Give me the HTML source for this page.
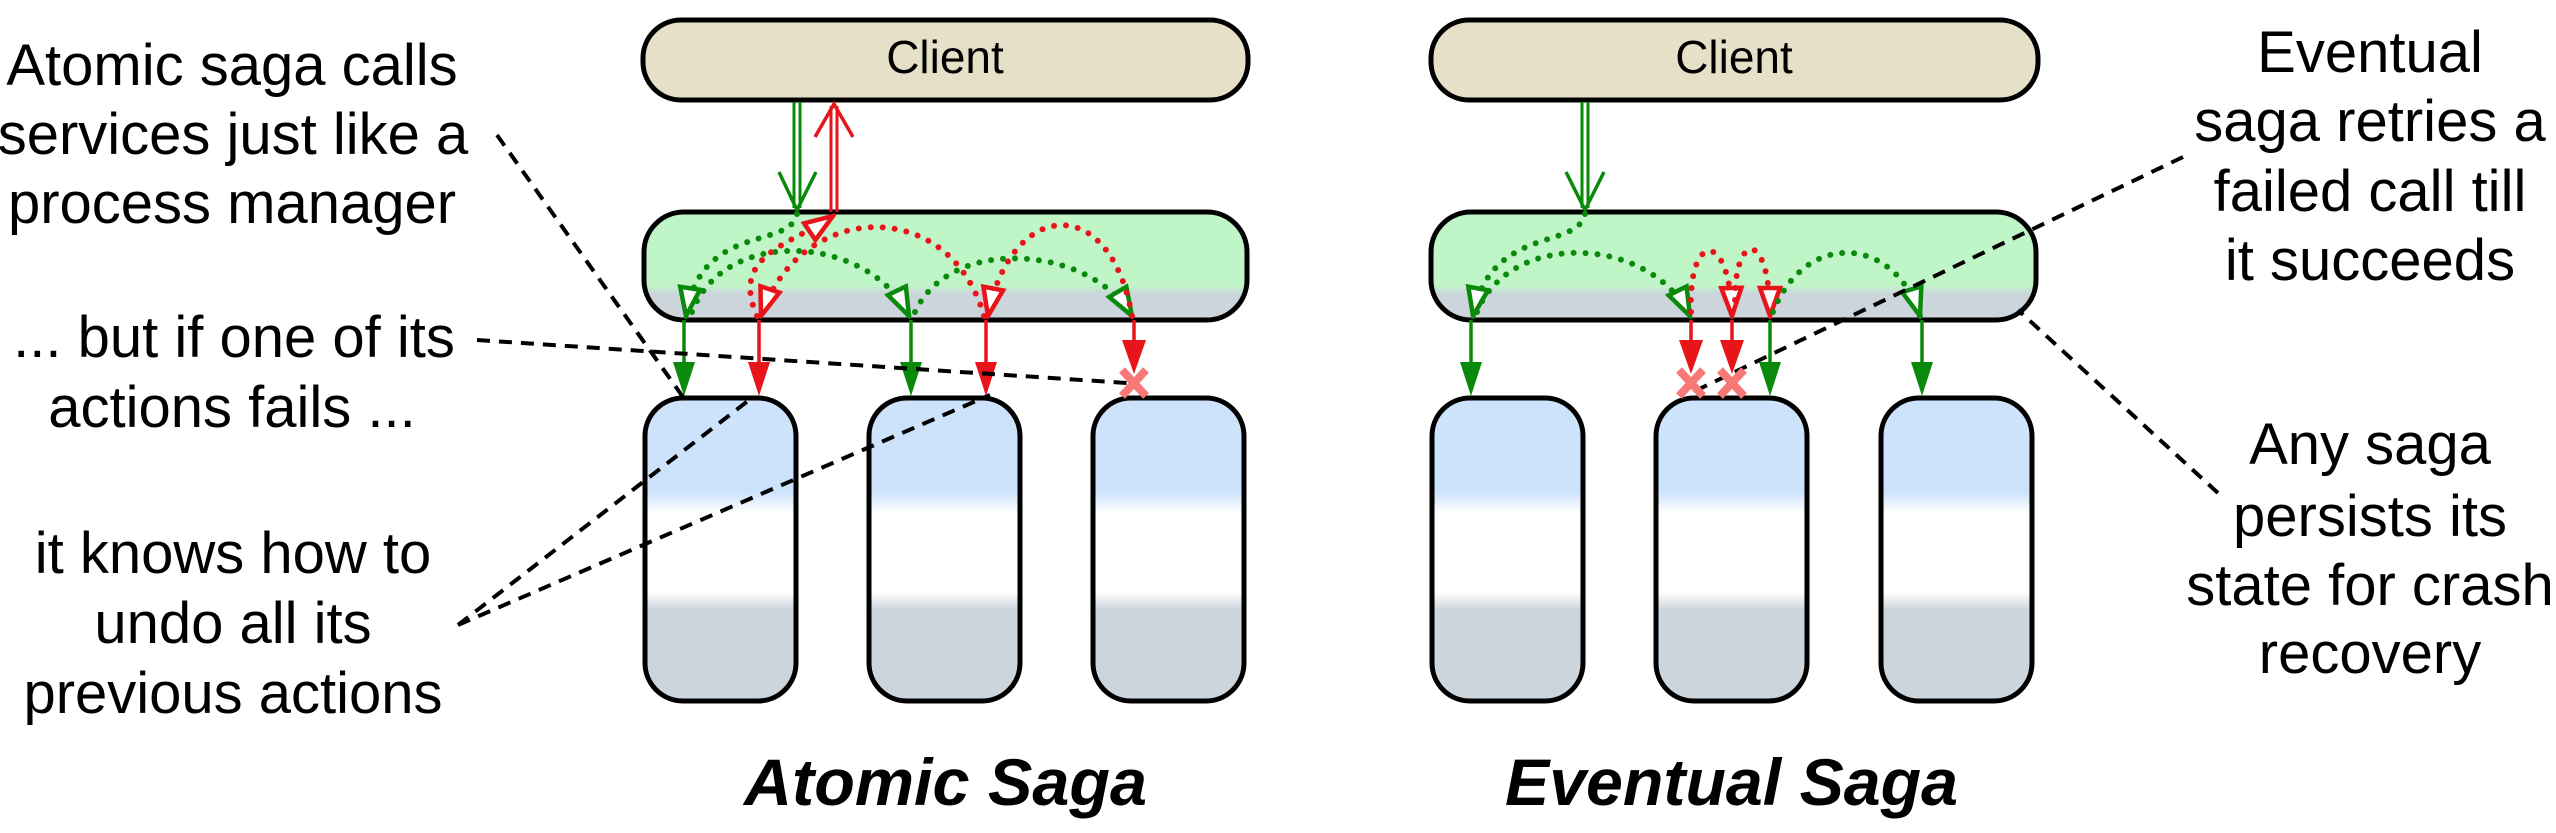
<!DOCTYPE html>
<html><head><meta charset="utf-8"><style>
html,body{margin:0;padding:0;background:#fff;}
svg{display:block;}
text{font-family:"Liberation Sans",sans-serif;}
</style></head><body>
<svg width="2556" height="833" viewBox="0 0 2556 833" xmlns="http://www.w3.org/2000/svg">
<defs>
<linearGradient id="orch" x1="0" y1="0" x2="0" y2="1">
<stop offset="0" stop-color="#c0f5c8"/><stop offset="0.68" stop-color="#c0f5c8"/><stop offset="0.76" stop-color="#ccd4dc"/><stop offset="1" stop-color="#ccd4dc"/>
</linearGradient>
<linearGradient id="svc" gradientUnits="userSpaceOnUse" x1="0" y1="398" x2="0" y2="701">
<stop offset="0" stop-color="#cde2fb"/><stop offset="0.31" stop-color="#cde2fb"/><stop offset="0.38" stop-color="#ffffff"/><stop offset="0.64" stop-color="#ffffff"/><stop offset="0.70" stop-color="#ccd4dc"/><stop offset="1" stop-color="#ccd4dc"/>
</linearGradient>
<marker id="og" viewBox="0 0 34 26" refX="31" refY="13" markerWidth="34" markerHeight="26" markerUnits="userSpaceOnUse" orient="auto">
<path d="M3,3 L31,13 L3,23 Z" fill="#fff" stroke="#0a8a0a" stroke-width="4.5"/></marker>
<marker id="or" viewBox="0 0 34 26" refX="31" refY="13" markerWidth="34" markerHeight="26" markerUnits="userSpaceOnUse" orient="auto">
<path d="M3,3 L31,13 L3,23 Z" fill="#fff" stroke="#e8141a" stroke-width="4.5"/></marker>
</defs>

<rect x="643" y="20" width="605" height="80" rx="38" fill="#e6e0c8" stroke="#000" stroke-width="5"/>
<text x="945" y="73" font-size="46" text-anchor="middle">Client</text>
<rect x="644" y="212" width="603" height="108" rx="40" fill="url(#orch)" stroke="#000" stroke-width="5"/>
<rect x="645" y="398" width="151" height="303" rx="38" fill="url(#svc)" stroke="#000" stroke-width="5"/>
<rect x="869" y="398" width="151" height="303" rx="38" fill="url(#svc)" stroke="#000" stroke-width="5"/>
<rect x="1093" y="398" width="151" height="303" rx="38" fill="url(#svc)" stroke="#000" stroke-width="5"/>

<rect x="1431" y="20" width="607" height="80" rx="38" fill="#e6e0c8" stroke="#000" stroke-width="5"/>
<text x="1734" y="73" font-size="46" text-anchor="middle">Client</text>
<rect x="1431" y="212" width="605" height="108" rx="40" fill="url(#orch)" stroke="#000" stroke-width="5"/>
<rect x="1432" y="398" width="151" height="303" rx="38" fill="url(#svc)" stroke="#000" stroke-width="5"/>
<rect x="1656" y="398" width="151" height="303" rx="38" fill="url(#svc)" stroke="#000" stroke-width="5"/>
<rect x="1881" y="398" width="151" height="303" rx="38" fill="url(#svc)" stroke="#000" stroke-width="5"/>

<g fill="none" stroke-width="3">
<path d="M794,102 V208 M800,102 V208" stroke="#0a8a0a"/>
<path d="M779,172 L797,210 L816,172" stroke="#0a8a0a" stroke-width="3.5"/>
<path d="M831,212 V106 M837,212 V106" stroke="#e8141a"/>
<path d="M815,137 L834,104 L853,137" stroke="#e8141a" stroke-width="3.5"/>
<path d="M1582,102 V208 M1588,102 V208" stroke="#0a8a0a"/>
<path d="M1566,172 L1585,210 L1604,172" stroke="#0a8a0a" stroke-width="3.5"/>
</g>

<g fill="none" stroke-width="6" stroke-linecap="round" stroke-dasharray="0 12">
<path d="M797,214 C790,250 700,222 686,316" stroke="#0a8a0a" marker-end="url(#og)"/>
<path d="M692,312 C725,225 870,235 909,316" stroke="#0a8a0a" marker-end="url(#og)"/>
<path d="M915,312 C950,235 1090,245 1132,316" stroke="#0a8a0a" marker-end="url(#og)"/>
<path d="M1132,316 C1110,190 1010,200 988,316" stroke="#e8141a" marker-end="url(#or)"/>
<path d="M984,316 C950,195 800,200 761,316" stroke="#e8141a" marker-end="url(#or)"/>
<path d="M757,316 C730,255 790,245 833,216" stroke="#e8141a" marker-end="url(#or)"/>
</g>
<g fill="none" stroke-width="6" stroke-linecap="round" stroke-dasharray="0 12">
<path d="M1585,214 C1578,250 1490,225 1473,316" stroke="#0a8a0a" marker-end="url(#og)"/>
<path d="M1477,312 C1510,230 1650,235 1690,316" stroke="#0a8a0a" marker-end="url(#og)"/>
<path d="M1691,312 C1688,230 1730,230 1732,316" stroke="#e8141a" marker-end="url(#or)"/>
<path d="M1735,300 C1735,230 1770,230 1770,316" stroke="#e8141a" marker-end="url(#or)"/>
<path d="M1773,312 C1805,230 1895,235 1920,316" stroke="#0a8a0a" marker-end="url(#og)"/>
</g>

<g stroke-width="3.5">
<line x1="684" y1="320" x2="684" y2="370" stroke="#0a8a0a"/><path d="M673,362 L695,362 L684,396 Z" fill="#0a8a0a"/>
<line x1="759" y1="320" x2="759" y2="370" stroke="#e8141a"/><path d="M748,362 L770,362 L759,396 Z" fill="#e8141a"/>
<line x1="911" y1="320" x2="911" y2="370" stroke="#0a8a0a"/><path d="M900,362 L922,362 L911,396 Z" fill="#0a8a0a"/>
<line x1="986" y1="320" x2="986" y2="370" stroke="#e8141a"/><path d="M975,362 L997,362 L986,396 Z" fill="#e8141a"/>
<line x1="1134" y1="320" x2="1134" y2="345" stroke="#e8141a"/><path d="M1122,340 L1146,340 L1134,374 Z" fill="#e8141a"/>
<line x1="1471" y1="320" x2="1471" y2="370" stroke="#0a8a0a"/><path d="M1460,362 L1482,362 L1471,396 Z" fill="#0a8a0a"/>
<line x1="1691" y1="320" x2="1691" y2="345" stroke="#e8141a"/><path d="M1679,340 L1703,340 L1691,374 Z" fill="#e8141a"/>
<line x1="1732" y1="320" x2="1732" y2="345" stroke="#e8141a"/><path d="M1720,340 L1744,340 L1732,374 Z" fill="#e8141a"/>
<line x1="1770" y1="320" x2="1770" y2="370" stroke="#0a8a0a"/><path d="M1759,362 L1781,362 L1770,396 Z" fill="#0a8a0a"/>
<line x1="1922" y1="320" x2="1922" y2="370" stroke="#0a8a0a"/><path d="M1911,362 L1933,362 L1922,396 Z" fill="#0a8a0a"/>
</g>

<g stroke="#000" stroke-width="4" stroke-dasharray="13 9" fill="none">
<line x1="497" y1="135" x2="683" y2="397"/>
<line x1="477" y1="340" x2="1127" y2="383"/>
<line x1="458" y1="625" x2="753" y2="397"/>
<line x1="458" y1="625" x2="990" y2="395"/>
<line x1="2183" y1="157" x2="1695" y2="391"/>
<line x1="2218" y1="493" x2="2018" y2="310"/>
</g>

<g stroke="#f87878" stroke-width="8">
<path d="M1122,370 L1146,396 M1146,370 L1122,396"/>
<path d="M1679,370 L1703,396 M1703,370 L1679,396"/>
<path d="M1720,370 L1744,396 M1744,370 L1720,396"/>
</g>

<g font-size="58" text-anchor="middle" fill="#000">
<text x="232" y="85">Atomic saga calls</text>
<text x="233" y="154">services just like a</text>
<text x="232" y="223">process manager</text>
<text x="234" y="357">... but if one of its</text>
<text x="232" y="427">actions fails ...</text>
<text x="233" y="573">it knows how to</text>
<text x="233" y="643">undo all its</text>
<text x="233" y="713">previous actions</text>
</g>
<g font-size="58" text-anchor="middle" fill="#000">
<text x="2370" y="72">Eventual</text>
<text x="2370" y="141">saga retries a</text>
<text x="2370" y="211">failed call till</text>
<text x="2370" y="280">it succeeds</text>
<text x="2370" y="464">Any saga</text>
<text x="2370" y="536">persists its</text>
<text x="2370" y="605">state for crash</text>
<text x="2370" y="673">recovery</text>
</g>
<g font-size="66" font-weight="bold" font-style="italic" fill="#000">
<text x="744" y="805" textLength="403" lengthAdjust="spacingAndGlyphs">Atomic Saga</text>
<text x="1505" y="805" textLength="453" lengthAdjust="spacingAndGlyphs">Eventual Saga</text>
</g>
</svg>
</body></html>
